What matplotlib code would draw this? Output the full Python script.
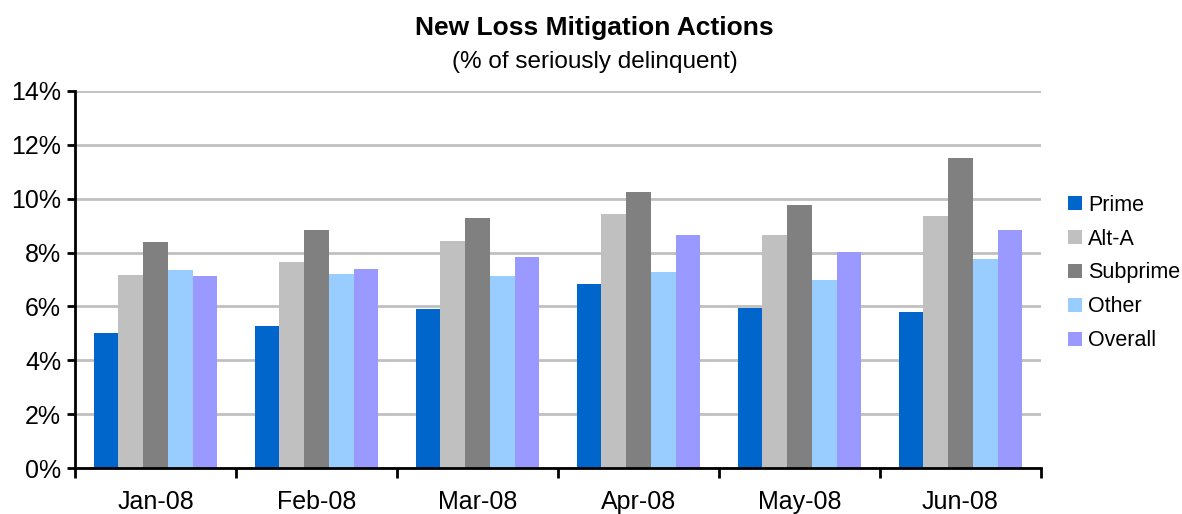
import matplotlib
matplotlib.use('Agg')
import numpy as np
import matplotlib.pyplot as plt
from matplotlib.ticker import FixedLocator, FuncFormatter

plt.rcParams['font.family'] = ['Liberation Sans', 'DejaVu Sans']

months = ['Jan-08', 'Feb-08', 'Mar-08', 'Apr-08', 'May-08', 'Jun-08']
series = ['Prime', 'Alt-A', 'Subprime', 'Other', 'Overall']
prime = [5.0, 5.27, 5.9, 6.83, 5.94, 5.79]
alt_a = [7.16, 7.65, 8.43, 9.43, 8.65, 9.36]
subprime = [8.39, 8.84, 9.28, 10.25, 9.76, 11.51]
other = [7.35, 7.2, 7.13, 7.27, 6.98, 7.76]
overall = [7.13, 7.39, 7.83, 8.65, 8.02, 8.84]
colors = ['#0066CC', '#C0C0C0', '#808080', '#99CCFF', '#9999FF']

fig = plt.figure(figsize=(11.82, 5.14), dpi=100)
ax = fig.add_axes([75 / 1182, 46 / 514, 966 / 1182, 377 / 514])

x = np.arange(len(months))
width = 1 / 6.5
for i, (name, vals) in enumerate(zip(series, [prime, alt_a, subprime, other, overall])):
    ax.bar(x + (i - 2) * width, vals, width, color=colors[i], label=name, zorder=3)

ax.set_xlim(-0.5, len(months) - 0.5)
ax.set_ylim(0, 14)
ax.set_yticks(np.arange(0, 15, 2))
ax.yaxis.set_major_formatter(FuncFormatter(lambda v, p: '%d%%' % v))
ax.grid(axis='y', color='#C0C0C0', linewidth=2, zorder=0)

ax.set_xticks(x)
ax.set_xticklabels(months)
ax.xaxis.set_minor_locator(FixedLocator(np.arange(-0.5, len(months), 1)))
ax.tick_params(axis='x', which='major', length=0, pad=15.5, labelsize=18)
ax.tick_params(axis='x', which='minor', length=7, width=2, direction='out')
ax.tick_params(axis='y', length=6, width=2, pad=4, labelsize=18)

for s in ['top', 'right']:
    ax.spines[s].set_visible(False)
for s in ['left', 'bottom']:
    ax.spines[s].set_linewidth(2)
    ax.spines[s].set_zorder(4)

fig.text(0.503, 1 - 28 / 514, 'New Loss Mitigation Actions', ha='center', va='center',
         fontsize=19, fontweight='bold')
fig.text(0.503, 1 - 62 / 514, '(% of seriously delinquent)', ha='center', va='center',
         fontsize=17.5)

fig.legend(loc='center left', bbox_to_anchor=(1068 / 1182, 1 - 273 / 514),
           frameon=False, fontsize=15.5, handlelength=0.66, handleheight=0.66,
           handletextpad=0.28, labelspacing=0.6, borderpad=0, borderaxespad=0)

fig.savefig('out.png', dpi=100)
